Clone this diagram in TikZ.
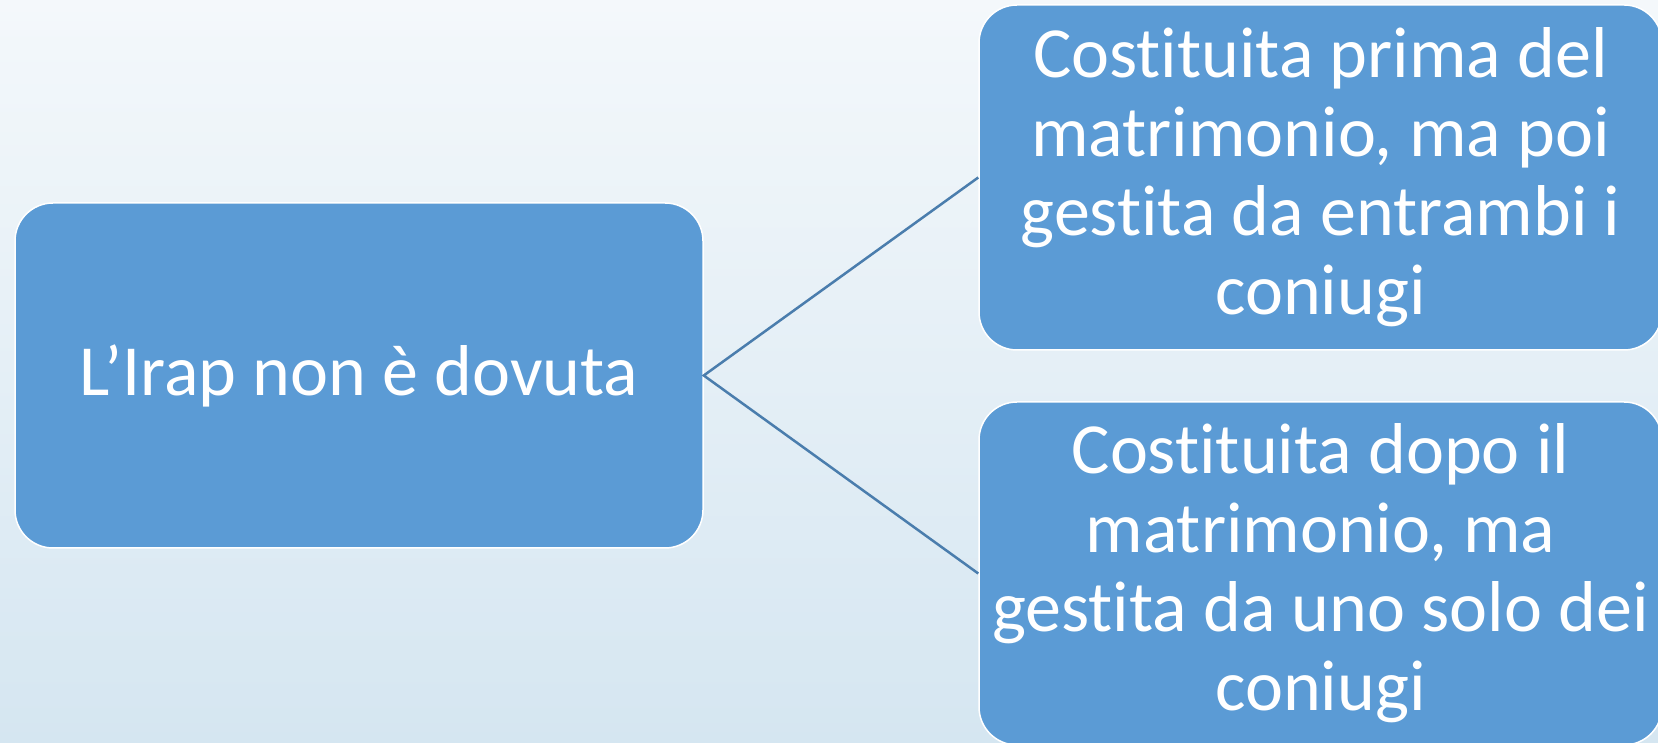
\documentclass[tikz,border=0pt]{standalone}
\usepackage{fontspec}
\setmainfont{Carlito}[Ligatures=NoCommon]
\definecolor{boxblue}{HTML}{5B9BD5}
\definecolor{linkblue}{HTML}{4A7DAD}
\definecolor{bgtop}{HTML}{F4F8FB}
\definecolor{bgbot}{HTML}{D5E6F1}
\begin{document}
\begin{tikzpicture}[x=1pt,y=1pt,
  box/.style={draw=white, line width=1.5pt, fill=boxblue, rounded corners=38pt,
    text=white, align=center, inner sep=0pt,
    font=\fontsize{72}{79}\selectfont},
  link/.style={draw=linkblue, line width=2.5pt}]
\useasboundingbox (0,0) rectangle (1658,743);
\clip (0,0) rectangle (1658,743);
\shade[top color=bgtop, bottom color=bgbot] (0,0) rectangle (1658,743);
\node[box, minimum width=688pt, minimum height=345pt] (a) at (359,367.5) {L’Irap non è dovuta};
\node[box, minimum width=683pt, minimum height=345pt] (b) at (1320.5,565.5) {Costituita prima del\\matrimonio, ma poi\\gestita da entrambi i\\coniugi};
\node[box, minimum width=683pt, minimum height=343pt] (c) at (1320.5,169.5) {Costituita dopo il\\matrimonio, ma\\gestita da uno solo dei\\coniugi};
\draw[link] (b.west) -- (a.east) -- (c.west);
\end{tikzpicture}
\end{document}
